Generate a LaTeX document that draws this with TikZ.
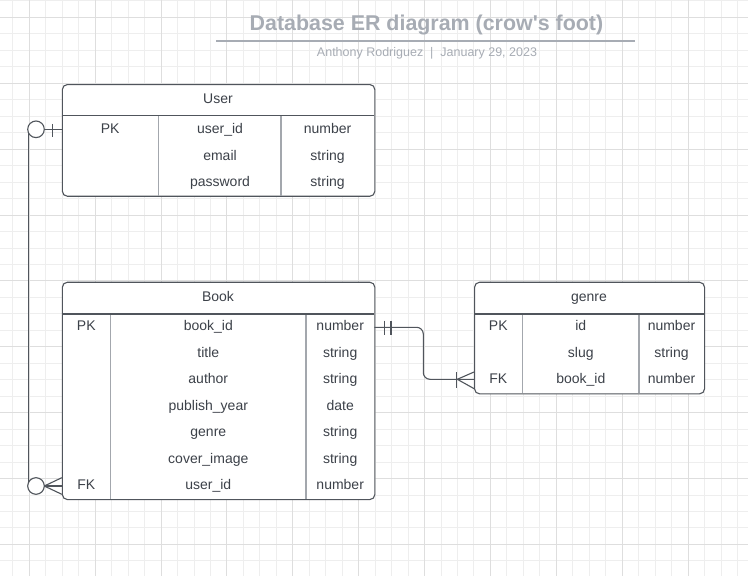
\documentclass[tikz,border=0pt]{standalone}
\usepackage{fontspec}
\setmainfont{Liberation Sans}
\newfontfamily\titlefont{Liberation Sans}
\usetikzlibrary{calc}
\definecolor{gridminor}{HTML}{EEEEEE}
\definecolor{gridmajor}{HTML}{DEDEDE}
\definecolor{edge}{HTML}{50555C}
\definecolor{coldiv}{HTML}{A3A7AD}
\definecolor{txt}{HTML}{3C4149}
\definecolor{ttl}{HTML}{A7ACB4}
\tikzset{
  tbl/.style={draw=edge, line width=1.1pt, fill=white, rounded corners=5pt, anchor=north west, inner sep=0pt},
  cell/.style={text=txt, font=\fontsize{14}{16}\selectfont, inner sep=0pt, anchor=base},
  hdr/.style={draw=edge, line width=1.1pt},
  cdiv/.style={draw=coldiv, line width=1.5pt},
  conn/.style={draw=edge, line width=1.1pt},
  endcirc/.style={circle, draw=edge, line width=1.1pt, fill=white, minimum size=16.6pt, inner sep=0pt},
}
\begin{document}
\begin{tikzpicture}[x=1pt,y=-1pt]
\useasboundingbox (0,0) rectangle (748,576);
\fill[white] (0,0) rectangle (748,576);
% grid
\foreach \k in {-1,...,43} {
  \pgfmathsetmacro\xx{29.3+\k*16.47}
  \pgfmathtruncatemacro\m{mod(\k+4,4)}
  \ifnum\m=0\relax\else\draw[gridminor, line width=1pt] (\xx,0) -- (\xx,576);\fi
}
\foreach \k in {-5,...,30} {
  \pgfmathsetmacro\yy{83.3+\k*16.47}
  \pgfmathtruncatemacro\m{mod(\k+8,4)}
  \ifnum\m=0\relax\else\draw[gridminor, line width=1pt] (0,\yy) -- (748,\yy);\fi
}
\foreach \k in {-1,...,43} {
  \pgfmathsetmacro\xx{29.3+\k*16.47}
  \pgfmathtruncatemacro\m{mod(\k+4,4)}
  \ifnum\m=0\relax\draw[gridmajor, line width=1pt] (\xx,0) -- (\xx,576);\fi
}
\foreach \k in {-5,...,30} {
  \pgfmathsetmacro\yy{83.3+\k*16.47}
  \pgfmathtruncatemacro\m{mod(\k+8,4)}
  \ifnum\m=0\relax\draw[gridmajor, line width=1pt] (0,\yy) -- (748,\yy);\fi
}
% title
\node[text=ttl, font=\titlefont\fontsize{21.4}{24}\selectfont\bfseries, inner sep=0pt] (title) at (426.5,25) {Database ER diagram (crow's foot)};
\draw[ttl, line width=2pt] (216,40.7) -- (635,40.7);
\node[text=ttl, font=\fontsize{12.5}{14}\selectfont, inner sep=0pt] (sub) at (427,53) {Anthony Rodriguez~~|~~January 29, 2023};

% ---------- User table ----------
\node[tbl, minimum width=312.5pt, minimum height=111.7pt] (user) at (61.8,84) {};
\draw[cdiv] (158.7,115.7) -- (158.7,195.7);
\draw[cdiv] (281,115.7) -- (281,195.7);
\draw[hdr] (61.8,115.7) -- (374.3,115.7);
\node[cell] (uh) at (218,103.5) {User};
\node[cell] (upk) at (110.2,133.5) {PK};
\node[cell] (u1) at (220,133.5) {user\_id};
\node[cell] (u1t) at (327.6,133.5) {number};
\node[cell] (u2) at (220,160) {email};
\node[cell] (u2t) at (327.6,160) {string};
\node[cell] (u3) at (220,186.5) {password};
\node[cell] (u3t) at (327.6,186.5) {string};

% ---------- Book table ----------
\node[tbl, minimum width=312.5pt, minimum height=217.3pt] (book) at (61.8,281.7) {};
\draw[cdiv] (110.7,314) -- (110.7,499);
\draw[cdiv] (306,314) -- (306,499);
\draw[hdr] (61.8,314) -- (374.3,314);
\node[cell] (bh) at (218,301) {Book};
\node[cell] (bpk) at (86.3,330.7) {PK};
\node[cell] (b1) at (208.3,330.7) {book\_id};
\node[cell] (b1t) at (340.2,330.7) {number};
\node[cell] (b2) at (208.3,357.2) {title};
\node[cell] (b2t) at (340.2,357.2) {string};
\node[cell] (b3) at (208.3,383.7) {author};
\node[cell] (b3t) at (340.2,383.7) {string};
\node[cell] (b4) at (208.3,410.2) {publish\_year};
\node[cell] (b4t) at (340.2,410.2) {date};
\node[cell] (b5) at (208.3,436.7) {genre};
\node[cell] (b5t) at (340.2,436.7) {string};
\node[cell] (b6) at (208.3,463.2) {cover\_image};
\node[cell] (b6t) at (340.2,463.2) {string};
\node[cell] (bfk) at (86.3,489.7) {FK};
\node[cell] (b7) at (208.3,489.7) {user\_id};
\node[cell] (b7t) at (340.2,489.7) {number};

% ---------- genre table ----------
\node[tbl, minimum width=230pt, minimum height=111.6pt] (genre) at (474,281.7) {};
\draw[cdiv] (522.7,314) -- (522.7,393.3);
\draw[cdiv] (639,314) -- (639,393.3);
\draw[hdr] (474,314) -- (704,314);
\node[cell] (gh) at (589,301) {genre};
\node[cell] (gpk) at (498.3,330.7) {PK};
\node[cell] (g1) at (580.8,330.7) {id};
\node[cell] (g1t) at (671.5,330.7) {number};
\node[cell] (g2) at (580.8,357.2) {slug};
\node[cell] (g2t) at (671.5,357.2) {string};
\node[cell] (gfk) at (498.3,383.7) {FK};
\node[cell] (g3) at (580.8,383.7) {book\_id};
\node[cell] (g3t) at (671.5,383.7) {number};

% ---------- connector User -- Book ----------
\coordinate (ua) at (61.8,129.3);
\coordinate (ba) at (61.8,486);
\draw[conn] (ua) -- (28.5,129.3) -- (28.5,486) -- (ba);
\node[endcirc] (uc) at (36,129.3) {};
\draw[conn] (52.3,123.8) -- (52.3,136.8);
\node[endcirc] (bc) at (36,486) {};
\draw[conn] (44.3,486) -- (61.8,477.7);
\draw[conn] (44.3,486) -- (61.8,494.3);
\draw[conn] (44.3,486) -- (ba);

% ---------- connector Book -- genre ----------
\coordinate (bb) at (374.3,327.3);
\coordinate (gb) at (474,379.3);
\draw[conn, rounded corners=6.7pt] (bb) -- (423.3,327.3) -- (423.3,379.3) -- (gb);
\draw[conn] (384.3,320.5) -- (384.3,334.5);
\draw[conn] (391,320.5) -- (391,334.5);
\draw[conn] (456.7,372.3) -- (456.7,388.3);
\draw[conn] (457.3,379.3) -- (474,372);
\draw[conn] (457.3,379.3) -- (474,388.6);
\end{tikzpicture}
\end{document}
